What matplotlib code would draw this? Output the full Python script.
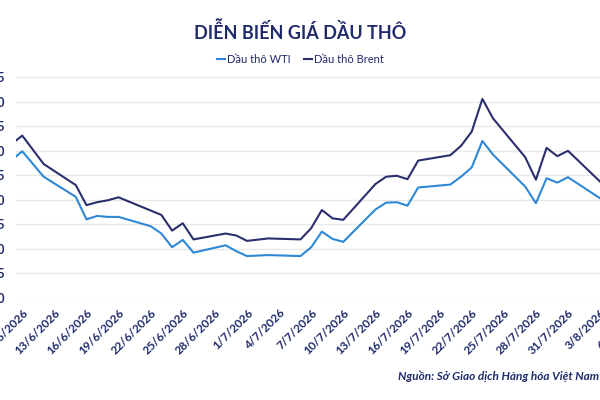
import numpy as np
import matplotlib.pyplot as plt
import matplotlib.dates as mdates

plt.rcParams['font.family'] = ['Lato', 'DejaVu Sans']

# data (USD/barrel)
dates = ['2026-06-09', '2026-06-10', '2026-06-12', '2026-06-15', '2026-06-16',
         '2026-06-17', '2026-06-18', '2026-06-19', '2026-06-22', '2026-06-23',
         '2026-06-24', '2026-06-25', '2026-06-26', '2026-06-29', '2026-06-30',
         '2026-07-01', '2026-07-03', '2026-07-06', '2026-07-07', '2026-07-08',
         '2026-07-09', '2026-07-10', '2026-07-13', '2026-07-14', '2026-07-15',
         '2026-07-16', '2026-07-17', '2026-07-20', '2026-07-21', '2026-07-22',
         '2026-07-23', '2026-07-24', '2026-07-27', '2026-07-28', '2026-07-29',
         '2026-07-30', '2026-07-31', '2026-08-03']
wti = [68.1, 69.9, 64.7, 60.6, 56.0, 56.7, 56.5, 56.5, 54.6, 53.1,
       50.3, 51.8, 49.2, 50.7, 49.5, 48.5, 48.7, 48.5, 50.3, 53.5,
       52.0, 51.4, 58.0, 59.4, 59.5, 58.8, 62.5, 63.1, 64.7, 66.6,
       72.0, 69.2, 62.7, 59.3, 64.4, 63.5, 64.6, 60.3]
brent = [71.4, 73.1, 67.3, 63.0, 58.9, 59.5, 59.9, 60.5, 57.8, 56.9,
         53.7, 55.2, 51.9, 53.1, 52.7, 51.6, 52.1, 51.9, 54.2, 57.9,
         56.2, 55.9, 63.2, 64.7, 64.9, 64.2, 68.0, 69.1, 71.0, 73.9,
         80.6, 76.6, 68.7, 64.1, 70.6, 68.9, 70.0, 63.7]

title = 'DIỄN BIẾN GIÁ DẦU THÔ'
source = 'Nguồn: Sở Giao dịch Hàng hóa Việt Nam'
navy = '#1F2A6B'

x = np.array(dates, dtype='datetime64[D]')
start = np.datetime64('2026-06-10')
ticks = np.arange(start, np.datetime64('2026-08-07'), 3)

fig = plt.figure(figsize=(6, 4), dpi=100)
ax = fig.add_axes([0.0273, 0.2558, 1.0442, 0.5508])

ax.plot(x, wti, color='#2E88D6', lw=1.5, label='Dầu thô WTI')
ax.plot(x, brent, color='#2B2F6E', lw=1.5, label='Dầu thô Brent')

ax.set_yticks(np.arange(40, 86, 5))
ax.set_xticks(ticks)
ax.set_xticklabels([f'{d.day}/{d.month}/{d.year}' for d in ticks.astype(object)],
                   rotation=45, ha='right', rotation_mode='anchor',
                   fontsize=8.5, fontweight='bold', color=navy)
ax.set_xlim(mdates.date2num(start) - 0.55, mdates.date2num(start) + 58)
ax.set_ylim(40, 85)
for lab in ax.get_yticklabels():
    lab.set_fontweight('bold')
    lab.set_color(navy)
    lab.set_fontsize(9)

ax.tick_params(axis='both', length=0)
ax.tick_params(axis='x', pad=7)
ax.tick_params(axis='y', pad=8)
ax.grid(axis='y', color='#E8E8E8', lw=1)
ax.set_axisbelow(True)
for s in ax.spines.values():
    s.set_visible(False)

fig.text(0.5, 0.92, title, ha='center', va='center', fontsize=13,
         fontweight='bold', color=navy)
fig.legend(loc='center', bbox_to_anchor=(0.5, 0.852), ncol=2, frameon=False,
           fontsize=8, handlelength=0.8, handletextpad=0.1, columnspacing=1.2,
           labelcolor=navy)
fig.text(0.998, 0.06, source, ha='right', va='center', fontsize=8.5,
         fontweight='bold', fontstyle='italic', color=navy)

fig.savefig('out.png', dpi=100)
